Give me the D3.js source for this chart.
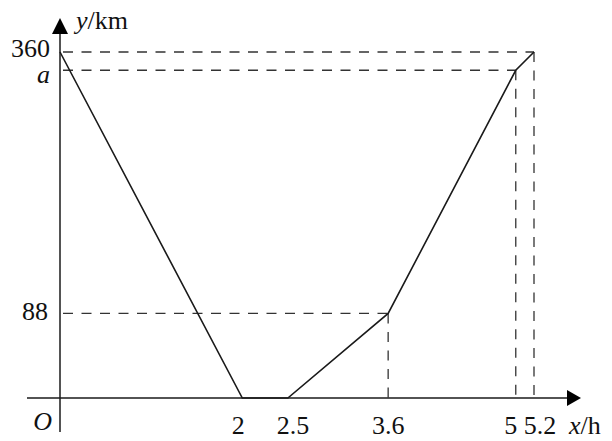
<!DOCTYPE html>
<html><head><meta charset="utf-8">
<script src="https://cdn.jsdelivr.net/npm/d3@7"></script>
<style>
html,body{margin:0;padding:0;background:#fff;}
svg{display:block;}
</style></head>
<body>
<svg id="c" width="612" height="441"></svg>
<script>
// Data
const aValue = 341;               // the unlabeled value "a" (estimated)
const pointsX = [0, 2, 2.5, 3.6, 5, 5.2];
const pointsY = [360, 0, 0, 88, aValue, 360];
const xTicks = [2, 2.5, 3.6, 5, 5.2];
const xTickLabels = ["2", "2.5", "3.6", "5", "5.2"];
const yMarks = [360, aValue, 88];
const yMarkLabels = ["360", "a", "88"];
const guideX = [5.2, 5, 3.6];     // guide lines drawn down to the x-axis

const FONT = "'Liberation Serif', 'DejaVu Serif', serif";
const FS = 26;

const svg = d3.select("#c");
const x = d3.scaleLinear().domain([0, 5.2]).range([60, 534]);
const y = d3.scaleLinear().domain([0, 360]).range([398, 52]);

const ink = "#1a1a1a";

// dashed guide lines
const g = svg.append("g").attr("stroke", "#333").attr("stroke-width", 1.3)
  .attr("stroke-dasharray", "10,8.5").attr("fill", "none");
guideX.forEach((gx, i) => {
  const gy = yMarks[i];
  g.append("line").attr("x1", x(0) + 3).attr("x2", x(gx)).attr("y1", y(gy)).attr("y2", y(gy));
  g.append("line").attr("x1", x(gx)).attr("x2", x(gx)).attr("y1", y(gy)).attr("y2", y(0));
});

// axes
svg.append("line").attr("x1", 27).attr("x2", 570).attr("y1", y(0)).attr("y2", y(0))
  .attr("stroke", ink).attr("stroke-width", 1.5);
svg.append("line").attr("x1", x(0)).attr("x2", x(0)).attr("y1", 432).attr("y2", 30)
  .attr("stroke", ink).attr("stroke-width", 1.5);
// arrows
svg.append("path").attr("d", `M581,${y(0)} L567,${y(0)-8} L567,${y(0)+8} Z`).attr("fill", "#000");
svg.append("path").attr("d", `M${x(0)},18 L${x(0)-8},34 L${x(0)+8},34 Z`).attr("fill", "#000");

// polyline
const line = d3.line().x((d, i) => x(pointsX[i])).y((d, i) => y(pointsY[i]));
svg.append("path").datum(pointsX).attr("d", line)
  .attr("fill", "none").attr("stroke", ink).attr("stroke-width", 1.6).attr("stroke-linejoin", "miter");

function txt(sel) {
  return sel.attr("font-family", FONT).attr("font-size", FS).attr("fill", "#111");
}

// x tick labels
const xOff = [-4, 5, 0, -5, 6];
txt(svg.selectAll(".xt").data(xTicks).enter().append("text")
  .attr("x", (d, i) => x(d) + xOff[i])
  .attr("y", 434).attr("text-anchor", "middle"))
  .text((d, i) => xTickLabels[i]);

// y mark labels
const yOff = [5, 13, 7];
txt(svg.selectAll(".yt").data(yMarks).enter().append("text")
  .attr("x", (d, i) => i === 2 ? 48 : 50)
  .attr("y", (d, i) => y(d) + yOff[i])
  .attr("text-anchor", "end")
  .attr("font-style", (d, i) => yMarkLabels[i] === "a" ? "italic" : "normal"))
  .text((d, i) => yMarkLabels[i]);

// origin
txt(svg.append("text").attr("x", 52).attr("y", 430).attr("text-anchor", "end")
  .attr("font-style", "italic")).text("O");

// axis titles
const yt = txt(svg.append("text").attr("x", 76).attr("y", 29));
yt.append("tspan").attr("font-style", "italic").text("y");
yt.append("tspan").text("/km");
const xt = txt(svg.append("text").attr("x", 569).attr("y", 434));
xt.append("tspan").attr("font-style", "italic").text("x");
xt.append("tspan").text("/h");
</script>
</body></html>
